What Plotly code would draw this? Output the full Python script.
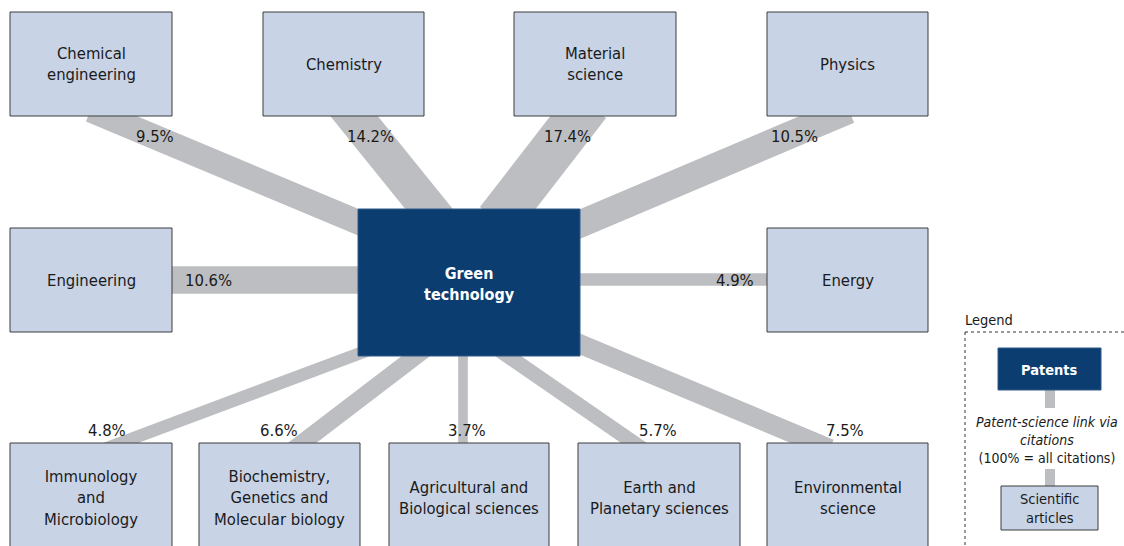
import numpy as np
import plotly.graph_objects as go

# ---------------- data ----------------
fields = ["Chemical<br>engineering", "Chemistry", "Material<br>science", "Physics",
          "Engineering", "Energy",
          "Immunology<br>and<br>Microbiology", "Biochemistry,<br>Genetics and<br>Molecular biology",
          "Agricultural and<br>Biological sciences", "Earth and<br>Planetary sciences",
          "Environmental<br>science"]
shares = [9.5, 14.2, 17.4, 10.5, 10.6, 4.9, 4.8, 6.6, 3.7, 5.7, 7.5]
share_labels = [f"{v:.1f}%" for v in shares]
center_label = "<b>Green<br>technology</b>"

# ---------------- layout (pixel space) ----------------
# boxes: x0, y0, x1, y1
boxes = [(10, 12, 172, 116), (263, 12, 424, 116), (514, 12, 676, 116), (767, 12, 928, 116),
         (10, 228, 172, 332), (767, 228, 928, 332),
         (10, 443, 172, 548), (199, 443, 360, 548), (389, 443, 549, 548),
         (578, 443, 740, 548), (767, 443, 928, 548)]
center_box = (358, 209, 580, 356)
# band anchors: (source point, center-box point)
anchors = [((104.5, 116), (358, 222)), ((354, 116), (429, 209)), ((579, 116), (507, 209)),
           ((835, 116), (580, 224)),
           ((172, 280), (358, 280)), ((767, 279.5), (580, 279.5)),
           ((120.5, 443), (358, 354)), ((302, 443), (416, 356)), ((463, 443), (463, 356)),
           ((634, 443), (508, 356)), ((816, 443), (580, 344))]
label_pos = [(155, 136), (370, 136), (567, 136), (794, 136),
             (208, 280), (735, 280),
             (107, 430), (279, 430), (467, 430), (658, 430), (845, 430)]
PX_PER_PCT = 2.6

FONT = "DejaVu Sans Condensed, Liberation Sans Narrow, sans-serif"
BAND = "#bdbec1"
BOXF = "#c8d3e6"
BOXL = "#3c3c3c"
DARK = "#0b3d70"
TXT = "#1a1a1a"

fig = go.Figure()

for (s, t), v in zip(anchors, shares):
    s = np.array(s, float); t = np.array(t, float)
    d = (t - s) / np.linalg.norm(t - s)
    p0 = s - d * 15
    p1 = t + d * 15
    fig.add_trace(go.Scatter(x=[p0[0], p1[0]], y=[p0[1], p1[1]], mode="lines",
                             line=dict(color=BAND, width=v * PX_PER_PCT),
                             hoverinfo="skip", showlegend=False))

shapes = []
annotations = []
for (x0, y0, x1, y1), name in zip(boxes, fields):
    shapes.append(dict(type="rect", x0=x0, y0=y0, x1=x1, y1=y1, fillcolor=BOXF,
                       line=dict(color=BOXL, width=1), layer="above"))
    yc = (y0 + min(y1, 547)) / 2 + (2.5 if y1 > 500 else 0)
    annotations.append(dict(x=(x0 + x1) / 2, y=yc,
                            text=name, showarrow=False,
                            font=dict(family=FONT, size=16.5, color=TXT),
                            xanchor="center", yanchor="middle"))
cx0, cy0, cx1, cy1 = center_box
shapes.append(dict(type="rect", x0=cx0, y0=cy0, x1=cx1, y1=cy1, fillcolor=DARK,
                   line=dict(color="#2f5a88", width=1), layer="above"))
annotations.append(dict(x=(cx0 + cx1) / 2, y=(cy0 + cy1) / 2 + 1, text=center_label, showarrow=False,
                        font=dict(family=FONT, size=16, color="white"),
                        xanchor="center", yanchor="middle"))

for (lx, ly), lab in zip(label_pos, share_labels):
    annotations.append(dict(x=lx, y=ly, text=lab, showarrow=False,
                            font=dict(family=FONT, size=16.5, color=TXT),
                            xanchor="center", yanchor="middle"))

# ---------------- legend panel ----------------
annotations.append(dict(x=963, y=320, text="Legend", showarrow=False, xanchor="left", yanchor="middle",
                        font=dict(family=FONT, size=14.5, color=TXT)))
shapes.append(dict(type="line", x0=965, y0=332, x1=1124, y1=332, line=dict(color="#333", width=1, dash="dot")))
shapes.append(dict(type="line", x0=965, y0=332, x1=965, y1=546, line=dict(color="#333", width=1, dash="dot")))
# connectors
fig.add_trace(go.Scatter(x=[1050, 1050], y=[390, 408], mode="lines",
                         line=dict(color=BAND, width=10), hoverinfo="skip", showlegend=False))
fig.add_trace(go.Scatter(x=[1050, 1050], y=[469, 487], mode="lines",
                         line=dict(color=BAND, width=10), hoverinfo="skip", showlegend=False))
shapes.append(dict(type="rect", x0=998, y0=348, x1=1101, y1=390, fillcolor=DARK,
                   line=dict(color="#2f5a88", width=1), layer="above"))
annotations.append(dict(x=1049.5, y=370, text="<b>Patents</b>", showarrow=False,
                        font=dict(family=FONT, size=14.5, color="white")))
annotations.append(dict(x=1047, y=440, text="<i>Patent-science link via<br>citations</i><br>(100% = all citations)",
                        showarrow=False, font=dict(family=FONT, size=14, color=TXT),
                        xanchor="center", yanchor="middle"))
shapes.append(dict(type="rect", x0=1001, y0=486, x1=1098, y1=530, fillcolor=BOXF,
                   line=dict(color=BOXL, width=1), layer="above"))
annotations.append(dict(x=1049.5, y=508, text="Scientific<br>articles", showarrow=False,
                        font=dict(family=FONT, size=14.5, color=TXT)))

fig.update_layout(width=1124, height=546, autosize=False,
                  margin=dict(l=0, r=0, t=0, b=0),
                  plot_bgcolor="white", paper_bgcolor="white",
                  xaxis=dict(range=[0, 1124], visible=False, fixedrange=True),
                  yaxis=dict(range=[546, 0], visible=False, fixedrange=True),
                  shapes=shapes, annotations=annotations)
fig.write_html("out.html", config={"displayModeBar": False},
               post_script="document.body.style.margin='0';")
